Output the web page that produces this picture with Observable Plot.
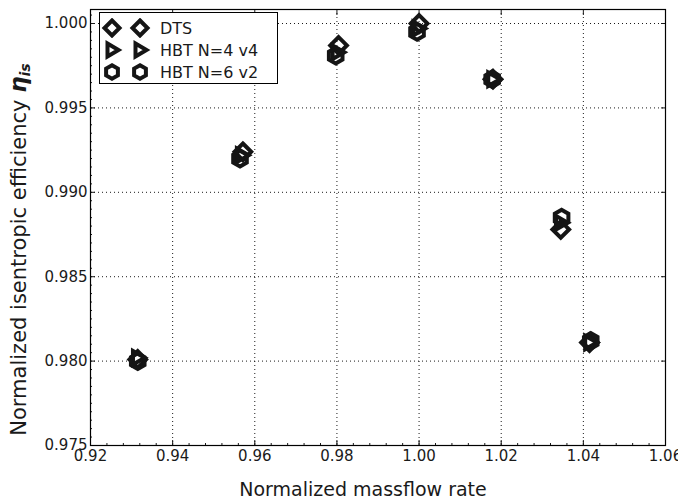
<!DOCTYPE html>
<html><head><meta charset="utf-8">
<script src="https://cdn.jsdelivr.net/npm/d3@7"></script>
<script src="https://cdn.jsdelivr.net/npm/@observablehq/plot@0.6"></script>
<style>
body{margin:0;background:#fff;font-family:"DejaVu Sans",sans-serif;}
#wrap{position:relative;width:678px;height:502px;}
#legend{position:absolute;left:99px;top:12px;width:179px;height:72px;border:1px solid #000;background:#fff;box-sizing:border-box;}
.row{position:absolute;left:0;height:20px;display:flex;align-items:center;}
.row span{font-size:16px;color:#1a1a1a;margin-left:2px;}
</style></head>
<body><div id="wrap"><div id="legend"></div></div>
<script>
const seriesNames = ["DTS", "HBT N=4 v4", "HBT N=6 v2"];
const dtsX  = [0.9315, 0.9571, 0.9804, 1.0000, 1.0180, 1.0345, 1.0415];
const dtsY  = [0.9801, 0.9924, 0.9987, 1.0000, 0.9967, 0.9878, 0.9811];
const hbt4X = [0.9313, 0.9566, 0.9799, 0.9996, 1.0178, 1.0343, 1.0414];
const hbt4Y = [0.9802, 0.9922, 0.9983, 0.9997, 0.9967, 0.9882, 0.9811];
const hbt6X = [0.9315, 0.9564, 0.9797, 0.9995, 1.0178, 1.0347, 1.0418];
const hbt6Y = [0.9800, 0.9920, 0.9981, 0.9995, 0.9967, 0.9885, 0.9812];
const xTicks = [0.92, 0.94, 0.96, 0.98, 1.00, 1.02, 1.04, 1.06];
const yTicks = [0.975, 0.980, 0.985, 0.990, 0.995, 1.000];

const toRows = (xs, ys) => xs.map((x, i) => ({x, y: ys[i]}));
const dts = toRows(dtsX, dtsY), hbt4 = toRows(hbt4X, hbt4Y), hbt6 = toRows(hbt6X, hbt6Y);
const ink = "#151515";
const xMinor = d3.range(0.92, 1.0601, 0.004);
const yMinor = d3.range(0.975, 1.0008, 0.0005);

const chart = Plot.plot({
  width: 678, height: 502,
  marginLeft: 90, marginRight: 13, marginTop: 9, marginBottom: 57,
  style: {fontFamily: "DejaVu Sans, sans-serif", fontSize: "15px", color: "#1a1a1a", background: "#fff", overflow: "visible"},
  x: {domain: [0.92, 1.06]},
  y: {domain: [0.975, 1.00083]},
  marks: [
    Plot.gridX(xTicks.slice(1, -1), {stroke: "#000", strokeOpacity: 0.9, strokeDasharray: "1,3"}),
    Plot.gridY(yTicks.slice(1), {stroke: "#000", strokeOpacity: 0.9, strokeDasharray: "1,3"}),
    Plot.axisX(xTicks, {tickSize: -5, tickFormat: d3.format(".2f"), tickPadding: 10, label: null}),
    Plot.axisX(xMinor, {tickSize: -2, label: null, text: null}),
    Plot.axisX(xTicks, {anchor: "top", tickSize: -5, text: null, label: null}),
    Plot.axisY(yTicks, {tickSize: -5, tickFormat: d3.format(".3f"), tickPadding: 8, label: null}),
    Plot.axisY(yMinor, {tickSize: -2, text: null, label: null}),
    Plot.axisY(yTicks, {anchor: "right", tickSize: -5, text: null, label: null}),
    Plot.frame({stroke: "#000", strokeWidth: 1.2}),
    Plot.dot(dts, {x: "x", y: "y", symbol: "diamond2", r: 7.5, stroke: ink, strokeWidth: 4, fill: "none"}),
    Plot.dot(hbt4, {x: "x", y: "y", symbol: "triangle2", rotate: 90, r: 6.5, stroke: ink, strokeWidth: 4, fill: "none"}),
    Plot.dot(hbt6, {x: "x", y: "y", symbol: "hexagon", r: 6.8, stroke: ink, strokeWidth: 4, fill: "none"}),
    Plot.text(["Normalized massflow rate"], {frameAnchor: "bottom", dx: -15, dy: 44, fontSize: 19, fill: "#1a1a1a", lineAnchor: "middle", textAnchor: "middle"}),
    Plot.text(["Normalized isentropic efficiency "], {frameAnchor: "left", dx: -71, dy: 22, rotate: -90, fontSize: 21, fill: "#1a1a1a", textAnchor: "middle"}),
  ]
});
const svg = chart;
document.getElementById("wrap").prepend(svg);
svg.style.position = "absolute"; svg.style.left = "0"; svg.style.top = "0";
svg.querySelectorAll("text").forEach(t => {
  if (/^\d\.\d+$/.test(t.textContent.trim())) {
    t.style.fontSize = "15px"; t.setAttribute("font-size", "15"); t.style.fill = "#1a1a1a";
  }
});
const ylab = Array.from(svg.querySelectorAll("text")).find(t => t.textContent.startsWith("Normalized isentropic"));
if (ylab) {
  const eta = document.createElementNS("http://www.w3.org/2000/svg", "tspan");
  eta.textContent = "η"; eta.setAttribute("font-size", "23"); eta.setAttribute("font-weight", "bold"); eta.setAttribute("font-style", "italic");
  ylab.appendChild(eta);
  const tsp = document.createElementNS("http://www.w3.org/2000/svg", "tspan");
  tsp.textContent = "is"; tsp.setAttribute("font-size", "14"); tsp.setAttribute("font-weight", "bold"); tsp.setAttribute("font-style", "italic"); tsp.setAttribute("dy", "4");
  ylab.appendChild(tsp);
}
const sym = {
  "DTS": "M0,-7.5L7.5,0L0,7.5L-7.5,0Z",
  "HBT N=4 v4": "M-4.5,-6.5L6.5,0L-4.5,6.5Z",
  "HBT N=6 v2": "M0,-6.8L5.9,-3.4L5.9,3.4L0,6.8L-5.9,3.4L-5.9,-3.4Z"
};
const leg = document.getElementById("legend");
seriesNames.forEach((name, i) => {
  const row = document.createElement("div");
  row.className = "row"; row.style.top = (5 + i * 22) + "px";
  row.innerHTML = `<svg width="58" height="20"><g fill="none" stroke="${ink}" stroke-width="4">
    <path transform="translate(12,10)" d="${sym[name]}"/><path transform="translate(40,10)" d="${sym[name]}"/></g></svg><span>${name}</span>`;
  leg.appendChild(row);
});
</script></body></html>
